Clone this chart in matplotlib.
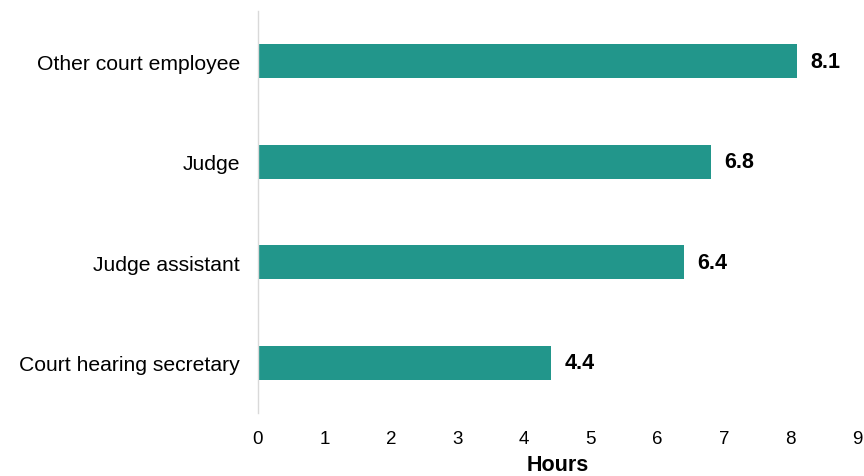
import matplotlib
matplotlib.use("Agg")
import matplotlib.pyplot as plt

categories = ["Court hearing secretary", "Judge assistant", "Judge", "Other court employee"]
hours = [4.4, 6.4, 6.8, 8.1]
x_ticks = [0, 1, 2, 3, 4, 5, 6, 7, 8, 9]

plt.rcParams["font.family"] = ["Liberation Sans", "DejaVu Sans"]

fig = plt.figure(figsize=(8.64, 4.77), dpi=100)
ax = fig.add_axes([0.2986, 0.132, 0.6934, 0.843])

bar_color = "#22968B"
ax.barh(range(len(categories)), hours, height=0.34, color=bar_color)

for i, v in enumerate(hours):
    ax.text(v + 0.2, i, f"{v:.1f}", va="center", ha="left",
            fontsize=15.5, fontweight="bold", color="#000000")

ax.set_xlim(0, 9)
ax.set_ylim(-0.5, 3.5)
ax.set_xticks(x_ticks)
ax.set_xticklabels([str(t) for t in x_ticks])
ax.set_yticks(range(len(categories)))
ax.set_yticklabels(categories)

ax.tick_params(axis="x", length=0, labelsize=13.5, pad=12, colors="#000000")
ax.tick_params(axis="y", length=0, labelsize=15.2, pad=13, colors="#000000")

for side in ["top", "right", "bottom"]:
    ax.spines[side].set_visible(False)
ax.spines["left"].set_color("#d9d9d9")
ax.spines["left"].set_linewidth(1.0)

ax.set_xlabel("Hours", fontsize=15.5, fontweight="bold", labelpad=5)

fig.savefig("out.png", dpi=100)
